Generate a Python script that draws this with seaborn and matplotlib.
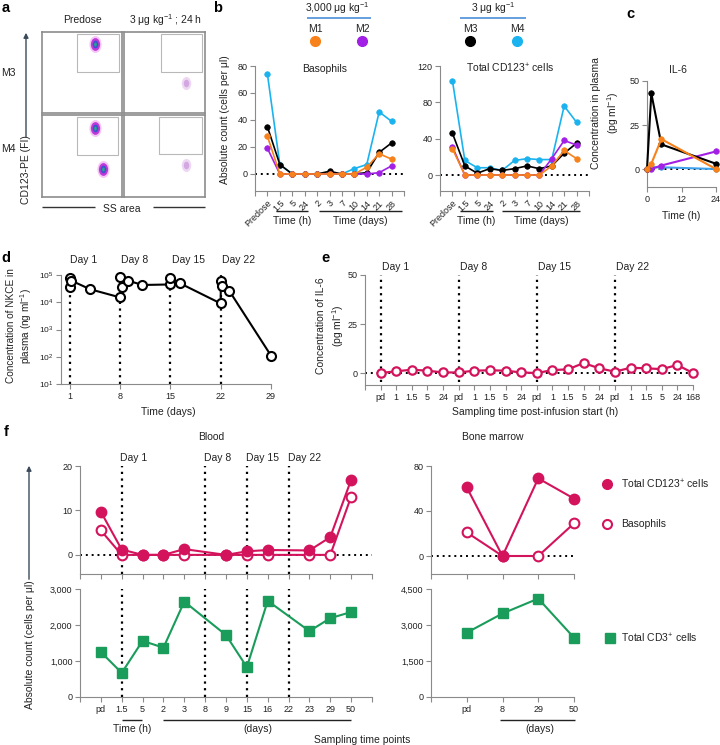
import numpy as np
import pandas as pd
import matplotlib
matplotlib.use("Agg")
import matplotlib.pyplot as plt
import seaborn as sns
from matplotlib.patches import Rectangle
from matplotlib.path import Path
from matplotlib.transforms import Affine2D
from matplotlib.ticker import NullLocator, FuncFormatter

sns.set_style("ticks")
plt.rcParams['font.family'] = ['Liberation Sans', 'DejaVu Sans']
plt.rcParams['mathtext.fontset'] = 'custom'
plt.rcParams['mathtext.rm'] = 'Liberation Sans'
plt.rcParams['mathtext.it'] = 'Liberation Sans:italic'
plt.rcParams['mathtext.bf'] = 'Liberation Sans:bold'
plt.rcParams['mathtext.default'] = 'regular'

# ---------------- data ----------------
# panel a (flow cytometry: gate boxes and population centres, axes fraction)
a_gates = [(0.44, 0.51, 0.52, 0.47), (0.46, 0.51, 0.50, 0.47),
           (0.44, 0.51, 0.51, 0.47), (0.43, 0.52, 0.53, 0.46)]
a_blob_x = [[0.66], [0.77], [0.66, 0.76], [0.77]]
a_blob_y = [[0.85], [0.37], [0.84, 0.34], [0.39]]
a_blob_dense = [[1], [0], [1, 1], [0]]

# panel b
b_times = ["Predose", "1.5", "5", "24", "2", "3", "7", "10", "14", "21", "28"]
baso_M1 = [28, 0, 0, 0, 0, 0, 0, 0, 5, 15, 11]
baso_M2 = [19, 0, 0, 0, 0, 0, 0, 0, 0, 1, 6]
baso_M3 = [35, 7, 0, 0, 0, 2, 0, 0, 1, 16, 23]
baso_M4 = [74, 7, 0, 0, 0, 0, 0, 4, 7, 46, 39]
cd123_M1 = [29, 0, 0, 0, 0, 0, 0, 0, 10, 27, 18]
cd123_M2 = [31, 0, 0, 0, 0, 0, 0, 0, 18, 38, 33]
cd123_M3 = [46, 10, 2, 7, 5, 7, 10, 7, 10, 24, 35]
cd123_M4 = [104, 16, 8, 8, 5, 16, 18, 17, 17, 76, 58]

# panel c
il6_hours = [0, 1.5, 5, 24]
il6_M1 = [0, 3, 17, 0]
il6_M2 = [0, 0, 2, 10]
il6_M3 = [0, 43, 14, 3]
il6_M4 = [0, 1, 1, 0]

# panel d
nkce_days = [1.0, 1.0, 1.2, 3.8, 8.0, 8.2, 8.0, 9.1, 11.1, 15.0, 15.0, 16.3,
             22.0, 22.0, 22.2, 23.2, 29.0]
nkce_vals = [3.5e4, 7.8e4, 6.2e4, 3.0e4, 1.5e4, 3.7e4, 8.5e4, 6.2e4, 4.3e4,
             4.5e4, 8.0e4, 5.0e4, 9.0e3, 6.0e4, 4.0e4, 2.6e4, 1.1e2]
dose_days = [1, 8, 15, 22]

# panel e
e_labels = ["pd", "1", "1.5", "5", "24"] * 4 + ["168"]
e_il6 = [0, 0.9, 1.7, 1.2, 0.3, 0.3, 1.2, 1.4, 1.2, 0.3,
         0, 1.5, 1.9, 5.1, 2.4, 0.7, 2.7, 2.4, 2.0, 4.1, 0]

# panel f
f_blood_labels = ["pd", "1.5", "5", "2", "3", "8", "9", "15", "16", "22", "23", "29", "50"]
f_blood_cd123 = [9.7, 1.2, 0, 0, 1.3, np.nan, 0, 0.8, 1.1, np.nan, 1.0, 4.0, 16.9]
f_blood_baso = [5.5, 0, 0, 0, 0, np.nan, 0, 0, 0, np.nan, 0, 0, 13.1]
f_blood_cd3 = [1250, 670, 1560, 1370, 2650, np.nan, 1720, 830, 2670, np.nan, 1830, 2190, 2360]
f_bm_labels = ["pd", "8", "29", "50"]
f_bm_cd123 = [61, 0, 69, 51]
f_bm_baso = [21, 0, 0, 29]
f_bm_cd3 = [2680, 3480, 4100, 2470]

# ---------------- style ----------------
W, H = 720, 745
ORANGE = '#f7811a'; PURPLE = '#a21fe6'; BLACK = '#000000'; CYAN = '#1bb3ef'
MAG = '#d3145d'; GREEN = '#1a9c5b'
AX = '#8a8a8a'; TXT = '#222222'
TICKFS = 6.5

fig = plt.figure(figsize=(W / 100, H / 100), dpi=100)


def axpx(x0, y0, x1, y1):
    return fig.add_axes([x0 / W, 1 - y1 / H, (x1 - x0) / W, (y1 - y0) / H])


def style(ax, fs=TICKFS):
    sns.despine(ax=ax)
    for s in ('left', 'bottom'):
        ax.spines[s].set_color(AX)
        ax.spines[s].set_linewidth(0.8)
    ax.tick_params(colors=AX, labelcolor=TXT, labelsize=fs, length=3.5, width=0.8, pad=2)
    ax.set_xlabel('')
    ax.set_ylabel('')
    ax.patch.set_alpha(0)


def series(ax, x, y, color, mfc=None, marker='o', ms=4, lw=1.2, mew=1.0, z=3):
    df = pd.DataFrame({'x': x, 'y': y}).dropna()
    sns.lineplot(data=df, x='x', y='y', ax=ax, color=color, marker=marker, markersize=ms,
                 markerfacecolor=color if mfc is None else mfc, markeredgecolor=color,
                 markeredgewidth=mew, linewidth=lw, estimator=None, sort=False,
                 legend=False, zorder=z, clip_on=False)


DOT = (0, (1, 2))


def hdot(ax, y, x0, x1):
    ax.plot([x0, x1], [y, y], color='k', lw=1.4, ls=DOT, zorder=1, clip_on=False)


def vdot(ax, x, y0, y1):
    ax.plot([x, x], [y0, y1], color='k', lw=1.6, ls=DOT, zorder=1, clip_on=False)


# ---------------- panel a ----------------
ELL = Path.unit_circle().transformed(Affine2D().scale(0.72, 1.0))
a_boxes = [(42, 32, 122, 113), (124, 32, 205, 113), (42, 115, 122, 197), (124, 115, 205, 197)]
for i, bx in enumerate(a_boxes):
    ax = axpx(*bx)
    ax.set_xlim(0, 1); ax.set_ylim(0, 1)
    ax.set_xticks([]); ax.set_yticks([])
    for s in ax.spines.values():
        s.set_color('#8c8c8c'); s.set_linewidth(1.2)
    gx, gy, gw, gh = a_gates[i]
    ax.add_patch(Rectangle((gx, gy), gw, gh, fill=False, ec='#b8b8b8', lw=0.8))
    for bxv, byv, dense in zip(a_blob_x[i], a_blob_y[i], a_blob_dense[i]):
        if dense:
            layers = [(150, '#ee9aee', 0.55), (85, '#b92ad8', 0.9), (32, '#3d55c9', 1), (7, '#22a88a', 1)]
        else:
            layers = [(90, '#e6c6ee', 0.7), (30, '#c893dc', 0.7)]
        for s, c, a in layers:
            sns.scatterplot(x=[bxv], y=[byv], s=s, color=c, alpha=a, linewidth=0, marker=ELL,
                            ax=ax, legend=False)
    ax.set_xlabel(''); ax.set_ylabel('')

# ---------------- panel b ----------------
for (x0, x1, ylim, yt, data, title, tx) in [
        (255, 404, (-12.6, 80), [0, 20, 40, 60, 80], (baso_M4, baso_M3, baso_M2, baso_M1), 'Basophils', 325),
        (440, 589, (-17.6, 120), [0, 40, 80, 120], (cd123_M4, cd123_M3, cd123_M2, cd123_M1),
         'Total CD123$^{+}$ cells', 510)]:
    ax = axpx(x0, 66, x1, 191)
    xs = list(range(len(b_times)))
    hdot(ax, 0, -1, 11)
    for vals, col in zip(data, (CYAN, BLACK, PURPLE, ORANGE)):
        series(ax, xs, vals, col, ms=4, lw=1.2, mew=0.5)
    style(ax)
    ax.set_xlim(-1, 11); ax.set_ylim(*ylim)
    ax.set_yticks(yt)
    ax.set_xticks(range(-1, 12))
    ax.set_xticklabels([''] + b_times + [''], rotation=45, ha='right', rotation_mode='anchor')
    ax.set_title(title, fontsize=7.5, color=TXT, pad=-2, loc='center', x=(tx - x0) / (x1 - x0), y=1.0, va='center')

# ---------------- panel c ----------------
ax = axpx(647, 81, 716, 187)
hdot(ax, 0, 0, 24)
for vals, col in zip((il6_M4, il6_M2, il6_M3, il6_M1), ('#3fa0ec', PURPLE, BLACK, ORANGE)):
    series(ax, il6_hours, vals, col, ms=4, lw=1.5, mew=0.5)
style(ax)
ax.set_xlim(0, 24); ax.set_ylim(-10.2, 50)
ax.set_xticks([0, 12, 24]); ax.set_yticks([0, 25, 50])

# ---------------- panel d ----------------
ax = axpx(61, 275, 271, 384)
for d in dose_days:
    vdot(ax, d, 10, 1e5)
series(ax, nkce_days, nkce_vals, 'k', mfc='white', ms=6.5, lw=1.5, mew=1.5)
style(ax)
ax.set_yscale('log')
ax.set_ylim(10, 1e5); ax.set_xlim(-0.25, 29)
ax.set_yticks([1e1, 1e2, 1e3, 1e4, 1e5])
ax.yaxis.set_minor_locator(NullLocator())
ax.set_xticks([1, 8, 15, 22, 29])
ax.tick_params(axis='y', labelsize=6)

# ---------------- panel e ----------------
ax = axpx(365, 275, 693, 385)
ex = list(range(len(e_labels)))
hdot(ax, 0, -1, 20)
for p in (0, 5, 10, 15):
    vdot(ax, p, -4.5, 50)
series(ax, ex, e_il6, MAG, mfc='white', ms=6, lw=1.6, mew=1.6)
style(ax)
ax.set_xlim(-1, 20); ax.set_ylim(-6.1, 50)
ax.set_xticks(range(-1, 21)); ax.set_xticklabels([''] + e_labels)
ax.set_yticks([0, 25, 50])

# ---------------- panel f ----------------
comma = FuncFormatter(lambda v, p: f"{int(v):,}")
fx = list(range(len(f_blood_labels)))
# blood top
ax = axpx(80, 466, 372, 574)
hdot(ax, 0, -1, 13)
for p in (1, 5, 7, 9):
    vdot(ax, p, -4.3, 20)
series(ax, fx, f_blood_baso, MAG, mfc='white', ms=7, lw=1.5, mew=1.5, z=3)
series(ax, fx, f_blood_cd123, MAG, ms=7, lw=1.5, mew=1.5, z=4)
style(ax)
ax.set_xlim(-1, 13); ax.set_ylim(-4.3, 20)
ax.set_xticks(range(-1, 14)); ax.set_xticklabels([])
ax.set_yticks([0, 10, 20])
# blood bottom
ax = axpx(80, 589, 372, 697)
for p in (1, 5, 7, 9):
    vdot(ax, p, 0, 3000)
series(ax, fx, f_blood_cd3, GREEN, marker='s', ms=7, lw=1.5, mew=1)
style(ax)
ax.set_xlim(-1, 13); ax.set_ylim(0, 3000)
ax.set_xticks(range(-1, 14)); ax.set_xticklabels([''] + f_blood_labels + [''])
ax.set_yticks([0, 1000, 2000, 3000]); ax.yaxis.set_major_formatter(comma)
# bone marrow top
bx = list(range(len(f_bm_labels)))
ax = axpx(431, 466, 574, 574)
hdot(ax, 0, -1, 3)
series(ax, bx, f_bm_baso, MAG, mfc='white', ms=7, lw=1.5, mew=1.5, z=3)
series(ax, bx, f_bm_cd123, MAG, ms=7, lw=1.5, mew=1.5, z=4)
style(ax)
ax.set_xlim(-1, 3); ax.set_ylim(-16, 80)
ax.set_xticks(range(-1, 4)); ax.set_xticklabels([])
ax.set_yticks([0, 40, 80])
# bone marrow bottom
ax = axpx(431, 589, 574, 697)
series(ax, bx, f_bm_cd3, GREEN, marker='s', ms=7, lw=1.5, mew=1)
style(ax)
ax.set_xlim(-1, 3); ax.set_ylim(0, 4500)
ax.set_xticks(range(-1, 4)); ax.set_xticklabels([''] + f_bm_labels)
ax.set_yticks([0, 1500, 3000, 4500]); ax.yaxis.set_major_formatter(comma)

# ---------------- overlay text ----------------
ov = fig.add_axes([0, 0, 1, 1])
ov.set_xlim(0, W); ov.set_ylim(H, 0); ov.axis('off'); ov.patch.set_alpha(0)


def T(x, y, s, fs=7.5, ha='center', va='center', **kw):
    ov.text(x, y, s, fontsize=fs, ha=ha, va=va, color=kw.pop('color', TXT), **kw)


def L(x0, x1, y, color='#222', lw=1.0):
    ov.plot([x0, x1], [y, y], color=color, lw=lw, solid_capstyle='butt')


# panel letters
for s, x, y in [('a', 6, 8), ('b', 218, 8), ('c', 630, 14), ('d', 6, 258), ('e', 325, 258), ('f', 6, 432)]:
    T(x, y, s, fs=10.5, weight='bold', color='k')

# panel a labels
T(83, 20, 'Predose')
T(166, 20, '3 μg kg$^{-1}$ ; 24 h')
T(8, 73, 'M3')
T(8, 149, 'M4')
T(26, 170, 'CD123-PE (FI)', rotation=90)
ov.annotate('', xy=(26, 30), xytext=(26, 140),
            arrowprops=dict(arrowstyle='-|>', color='#3b4a5a', lw=1.0, mutation_scale=7))
T(122, 209, 'SS area')
L(42, 95, 207, color='#333'); L(153, 205, 207, color='#333')

# panel b legend
T(337, 8, '3,000 μg kg$^{-1}$')
L(307, 371, 18, color='#4a8fd8', lw=1.2)
T(493, 8, '3 μg kg$^{-1}$')
L(460, 526, 18, color='#4a8fd8', lw=1.2)
for s, x, c in [('M1', 315, ORANGE), ('M2', 362, PURPLE), ('M3', 470, BLACK), ('M4', 517, CYAN)]:
    T(x, 29, s)
    ov.plot([x], [41], marker='o', ms=7, color=c, mec=c)
T(225, 120, 'Absolute count (cells per μl)', rotation=90)
for (h0, h1, d0, d1) in [(276, 308, 319, 402), (460, 493, 502, 580)]:
    L(h0, h1, 211); L(d0, d1, 211)
    T((h0 + h1) / 2, 221, 'Time (h)')
    T((d0 + d1) / 2, 221, 'Time (days)')

# panel c labels
T(678, 70, 'IL-6')
T(606, 113, 'Concentration in plasma\n(pg ml$^{-1}$)', rotation=90, linespacing=1.3)
T(681, 216, 'Time (h)')

# panel d labels
for s, x in [('Day 1', 70), ('Day 8', 121), ('Day 15', 172), ('Day 22', 222)]:
    T(x, 260, s, ha='left')
T(168, 412, 'Time (days)')
T(20, 326, 'Concentration of NKCE in\nplasma (ng ml$^{-1}$)', fs=7.2, rotation=90, linespacing=1.15)

# panel e labels
for s, x in [('Day 1', 382), ('Day 8', 460), ('Day 15', 538), ('Day 22', 616)]:
    T(x, 267, s, ha='left')
T(535, 412, 'Sampling time post-infusion start (h)')
T(331, 326, 'Concentration of IL-6\n(pg ml$^{-1}$)', rotation=90, linespacing=1.3)

# panel f labels
T(211, 437, 'Blood')
T(493, 437, 'Bone marrow')
for s, x in [('Day 1', 120), ('Day 8', 204), ('Day 15', 246), ('Day 22', 288)]:
    T(x, 458, s, ha='left')
T(30, 645, 'Absolute count (cells per μl)', rotation=90)
ov.annotate('', xy=(29, 463), xytext=(29, 582),
            arrowprops=dict(arrowstyle='-|>', color='#3b4a5a', lw=1.0, mutation_scale=7))
L(122, 142, 720); T(132, 729, 'Time (h)')
L(163, 351, 720); T(258, 729, '(days)')
L(500, 575, 720); T(540, 729, '(days)')
T(362, 740, 'Sampling time points')
ov.plot([607], [484], marker='o', ms=7, color=MAG, mec=MAG)
ov.plot([607], [524], marker='o', ms=6.5, color='white', mec=MAG, mew=1.5)
ov.plot([610], [638], marker='s', ms=7, color=GREEN, mec=GREEN)
T(621, 484, 'Total CD123$^{+}$ cells', ha='left')
T(621, 524, 'Basophils', ha='left')
T(621, 638, 'Total CD3$^{+}$ cells', ha='left')

fig.savefig('out.png', dpi=100)
